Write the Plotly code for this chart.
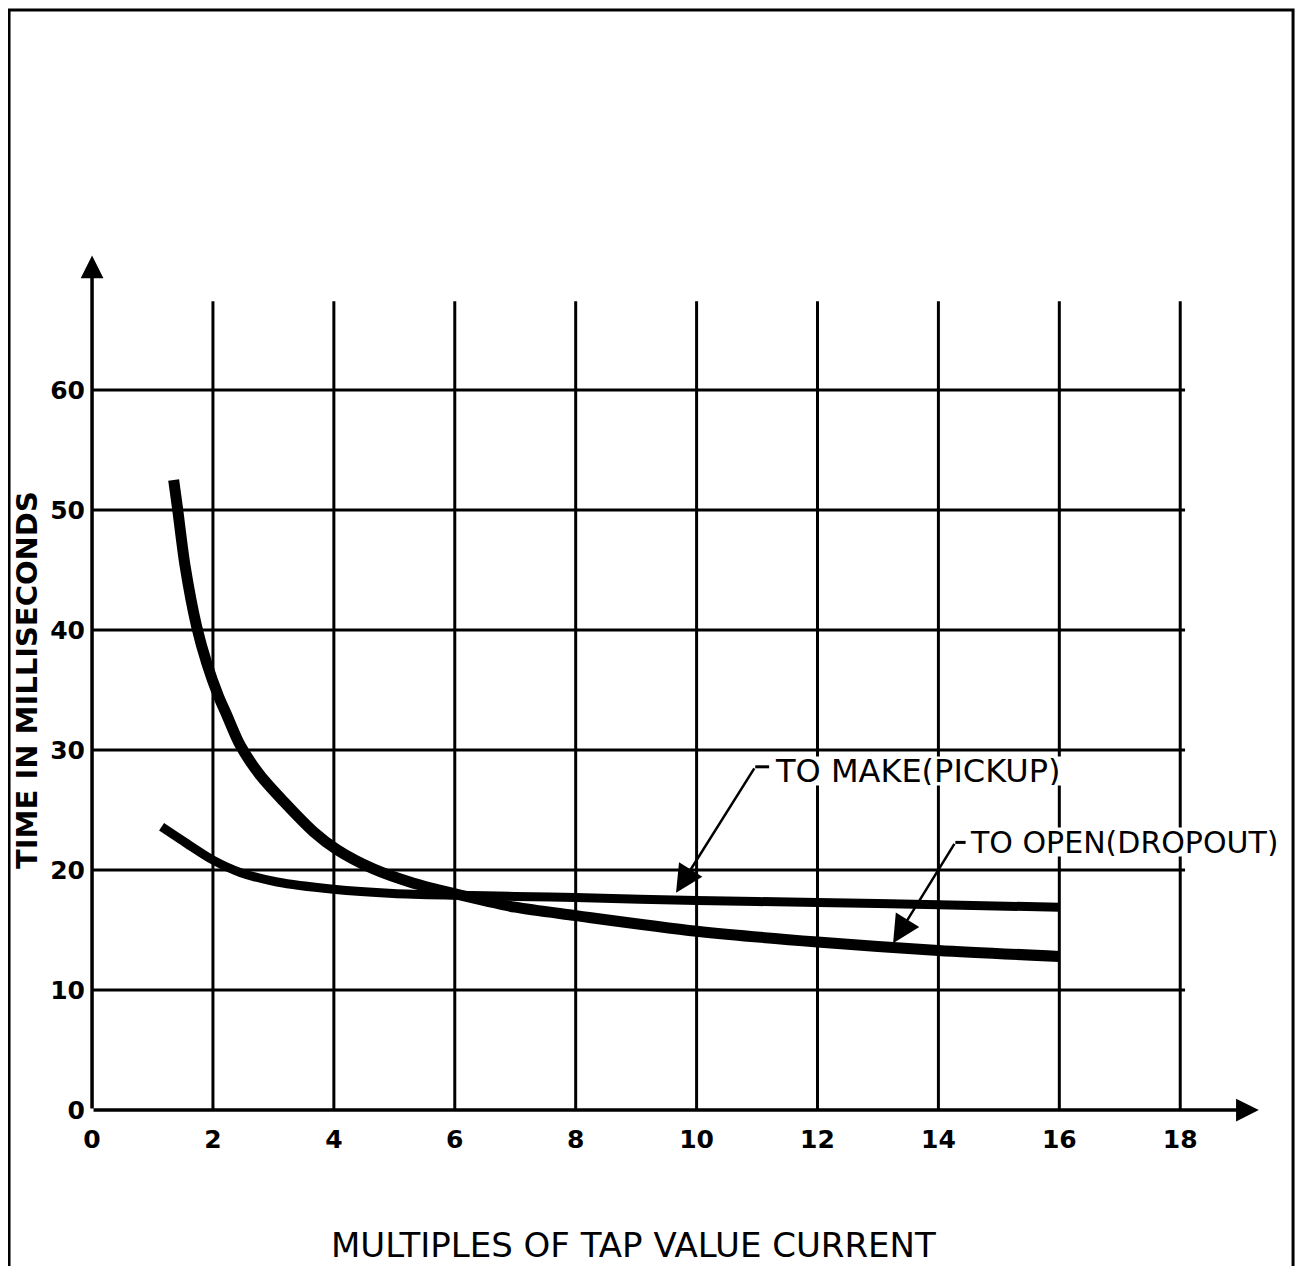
import plotly.graph_objects as go

# ---- data ----
pickup_x = [1.15, 1.57, 2.01, 2.45, 3.06, 3.99, 4.98, 6.02, 7.0, 8.0, 10.0, 12.0, 14.0, 16.0]
pickup_y = [23.6, 22.2, 20.8, 19.8, 19.0, 18.4, 18.05, 17.9, 17.8, 17.7, 17.45, 17.3, 17.1, 16.9]

dropout_x = [1.35, 1.41, 1.54, 1.73, 1.90, 2.09, 2.23, 2.45, 2.78, 3.17, 3.66, 4.05, 4.65,
             5.32, 6.02, 7.0, 8.0, 10.0, 12.0, 14.0, 16.0]
dropout_y = [52.5, 50.3, 45.3, 40.3, 37.2, 34.5, 32.9, 30.4, 27.9, 25.7, 23.2, 21.7, 20.1,
             18.9, 18.0, 16.9, 16.2, 14.9, 14.0, 13.3, 12.8]

x_ticks = [0, 2, 4, 6, 8, 10, 12, 14, 16, 18]
y_ticks = [0, 10, 20, 30, 40, 50, 60]

pickup_label = "TO MAKE(PICKUP)"
dropout_label = "TO OPEN(DROPOUT)"
x_title = "MULTIPLES OF TAP VALUE CURRENT"
y_title = "TIME IN MILLISECONDS"

# ---- figure ----
INK = "#000000"
FONT = "DejaVu Sans"

fig = go.Figure()

fig.add_trace(go.Scatter(x=dropout_x, y=dropout_y, mode="lines",
                         line=dict(color=INK, width=11, shape="spline", smoothing=0.8),
                         hoverinfo="skip", showlegend=False))
fig.add_trace(go.Scatter(x=pickup_x, y=pickup_y, mode="lines",
                         line=dict(color=INK, width=9, shape="spline", smoothing=0.8),
                         hoverinfo="skip", showlegend=False))

shapes = []
grid_top = 67.4
grid_right = 18.08
for xv in x_ticks[1:]:
    shapes.append(dict(type="line", xref="x", yref="y", x0=xv, x1=xv, y0=0, y1=grid_top,
                       line=dict(color=INK, width=3), layer="below"))
for yv in y_ticks[1:]:
    shapes.append(dict(type="line", xref="x", yref="y", x0=0, x1=grid_right, y0=yv, y1=yv,
                       line=dict(color=INK, width=3), layer="below"))

# leader hooks
shapes.append(dict(type="line", xref="x", yref="y", x0=10.97, x1=11.2, y0=28.6, y1=28.6,
                   line=dict(color=INK, width=3)))
shapes.append(dict(type="line", xref="x", yref="y", x0=14.28, x1=14.45, y0=22.3, y1=22.3,
                   line=dict(color=INK, width=3)))

# page border
shapes.append(dict(type="rect", xref="paper", yref="paper", x0=-0.0643, x1=1.0084,
                   y0=-0.25, y1=1.2694, line=dict(color=INK, width=3), layer="below"))

annotations = [
    # axes with arrow heads
    dict(x=0, y=71.2, ax=0, ay=0, xref="x", yref="y", axref="x", ayref="y", text="",
         showarrow=True, arrowhead=2, arrowsize=1.3, arrowwidth=3.5, arrowcolor=INK),
    dict(x=19.3, y=0, ax=0, ay=0, xref="x", yref="y", axref="x", ayref="y", text="",
         showarrow=True, arrowhead=2, arrowsize=1.3, arrowwidth=3.5, arrowcolor=INK),
    # leader arrows
    dict(x=9.66, y=18.1, ax=10.97, ay=28.6, xref="x", yref="y", axref="x", ayref="y", text="",
         showarrow=True, arrowhead=2, arrowsize=2.2, arrowwidth=2.5, arrowcolor=INK),
    dict(x=13.25, y=13.9, ax=14.28, ay=22.3, xref="x", yref="y", axref="x", ayref="y", text="",
         showarrow=True, arrowhead=2, arrowsize=2.2, arrowwidth=2.5, arrowcolor=INK),
    # labels (white box masks the grid behind the lettering, as in the drawing)
    dict(x=11.28, y=28.25, xref="x", yref="y", text=pickup_label, showarrow=False,
         xanchor="left", yanchor="middle", bgcolor="white", borderpad=0, height=28,
         font=dict(family=FONT, size=32, color=INK)),
    dict(x=14.5, y=22.3, xref="x", yref="y", text=dropout_label, showarrow=False,
         xanchor="left", yanchor="middle", bgcolor="white", borderpad=0, height=28,
         font=dict(family=FONT, size=30, color=INK)),
    # axis titles
    dict(x=0.457, y=-0.1404, xref="paper", yref="paper", text=x_title, showarrow=False,
         xanchor="center", yanchor="middle", font=dict(family=FONT, size=34, color=INK)),
    dict(x=-0.0493, y=0.5046, xref="paper", yref="paper", text=y_title, showarrow=False,
         textangle=-90, xanchor="center", yanchor="middle",
         font=dict(family=FONT, size=29, color=INK, weight="bold")),
]

fig.update_layout(
    width=1299, height=1258,
    margin=dict(l=78, r=24, t=238, b=144),
    paper_bgcolor="white", plot_bgcolor="white",
    shapes=shapes, annotations=annotations,
    showlegend=False,
    xaxis=dict(range=[-0.1, 19.7], tickvals=x_ticks, ticktext=[str(v) for v in x_ticks],
               showgrid=False, zeroline=False, showline=False, ticks="",
               tickfont=dict(family=FONT, size=25, color=INK, weight="bold")),
    yaxis=dict(range=[-1, 72], tickvals=y_ticks, ticktext=[str(v) for v in y_ticks],
               showgrid=False, zeroline=False, showline=False, ticks="",
               tickfont=dict(family=FONT, size=25, color=INK, weight="bold")),
)

fig.write_html("out.html")
